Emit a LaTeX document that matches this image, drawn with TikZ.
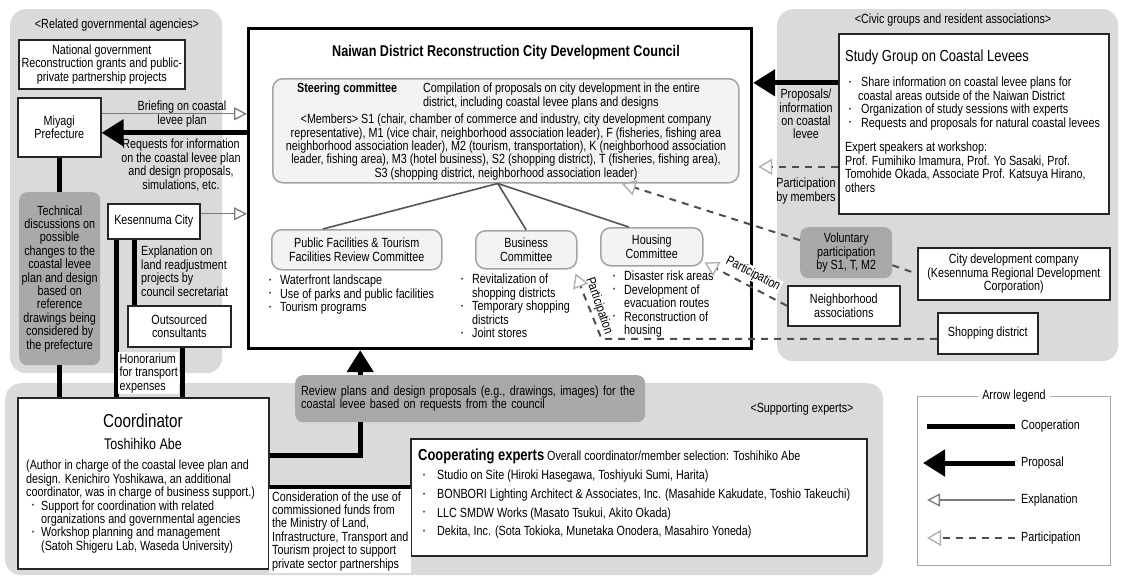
\documentclass[tikz,border=0pt]{standalone}
\usepackage{fontspec}
\setmainfont{Liberation Sans}[FakeStretch=0.81]
\usetikzlibrary{arrows.meta}

\definecolor{panelgray}{HTML}{DADADA}
\definecolor{notegray}{HTML}{A9A9A9}
\definecolor{subfill}{HTML}{F3F3F3}
\definecolor{subedge}{HTML}{A3A3A3}
\definecolor{explgray}{HTML}{7A7A7A}
\definecolor{partgray}{HTML}{4E4E4E}
\definecolor{parthead}{HTML}{B0B0B0}
\definecolor{treegray}{HTML}{555555}

\newcommand\txt{\fontsize{13.3}{13.4}\selectfont}
\newcommand\dotmark{\raisebox{2.4pt}{\fontsize{7}{7}\selectfont\textbullet}}
\newcommand\bul[1][11pt]{\makebox[#1][l]{\dotmark}}

\tikzset{
  every node/.style={inner sep=0pt, font=\txt},
  panel/.style={fill=panelgray, rounded corners=16pt, anchor=north west},
  wbox/.style={draw=black!85, line width=1.6pt, fill=white, align=center, anchor=north west},
  notebox/.style={fill=notegray, rounded corners=8pt, align=center, anchor=north west},
  subbox/.style={draw=subedge, line width=1.5pt, fill=subfill, rounded corners=10pt, align=center, anchor=north west},
  councilbox/.style={draw=black, line width=3.2pt, fill=white, anchor=north west},
  coopline/.style={line width=5pt, black},
  proposal/.style={line width=5pt, black, -{Triangle[length=22pt,width=26pt]}},
  explain/.style={line width=1.3pt, explgray, -{Triangle[open,length=13pt,width=13pt,line width=1.3pt]}},
  partic/.style={line width=2pt, partgray, dash pattern=on 7pt off 6pt,
    -{Triangle[open,length=14pt,width=16pt,line width=1.4pt,color=parthead]}},
  particline/.style={line width=2pt, partgray, dash pattern=on 7pt off 6pt},
  tree/.style={line width=1.6pt, treegray},
  lbl/.style={align=left, anchor=north west},
}

\begin{document}
\begin{tikzpicture}[x=1pt,y=-1pt]
\fill[white] (0,0) rectangle (1123,578);
\useasboundingbox (0,0) rectangle (1123,578);

% ---------- background groups ----------
\node[panel, minimum width=212pt, minimum height=364pt] (govpanel) at (10,9) {};
\node[panel, minimum width=341pt, minimum height=352pt] (civicpanel) at (777,9) {};
\node[panel, minimum width=878pt, minimum height=192pt] (supportpanel) at (5,383) {};

\node (govtitle) at (117,25) {<Related governmental agencies>};
\node (civictitle) at (953,20) {<Civic groups and resident associations>};
\node (suptitle) at (802,409) {<Supporting experts>};

% ---------- governmental agencies ----------
\node[wbox, minimum width=166pt, minimum height=49pt] (natgov) at (18,39)
  {National government\\Reconstruction grants and public-\\private partnership projects};
\node[wbox, minimum width=83pt, minimum height=59pt] (miyagi) at (17,97) {Miyagi\\Prefecture};
\node[notebox, minimum width=81pt, minimum height=173pt] (tech) at (19,192)
  {Technical\\discussions on\\possible\\changes to the\\coastal levee\\plan and design\\based on\\reference\\drawings being\\considered by\\the prefecture};
\node[wbox, minimum width=92pt, minimum height=35pt] (kesen) at (107,203) {Kesennuma City};
\node[wbox, minimum width=103pt, minimum height=41pt] (outsrc) at (127,305) {Outsourced\\consultants};

% ---------- council ----------
\node[councilbox, minimum width=503pt, minimum height=320pt] (council) at (247,27) {};
\node[font=\bfseries\fontsize{15.6}{17}\selectfont] (ctitle) at (506,52)
  {Naiwan District Reconstruction City Development Council};

\node[subbox, minimum width=466pt, minimum height=104pt] (steer) at (272,78) {};
\node[anchor=west, font=\bfseries\txt] (steerhead) at (297,89) {Steering committee};
\node[lbl] (steerrole) at (423,83)
  {Compilation of proposals on city development in the entire\\district, including coastal levee plans and designs};
\node[align=center] (steermem) at (506,147)
  {<Members> S1 (chair, chamber of commerce and industry, city development company\\
   representative), M1 (vice chair, neighborhood association leader), F (fisheries, fishing area\\
   neighborhood association leader), M2 (tourism, transportation), K (neighborhood association\\
   leader, fishing area), M3 (hotel business), S2 (shopping district), T (fisheries, fishing area),\\
   S3 (shopping district, neighborhood association leader)};

\node[subbox, minimum width=170pt, minimum height=40pt] (pf) at (271,229)
  {Public Facilities \& Tourism\\Facilities Review Committee};
\node[subbox, minimum width=101pt, minimum height=38pt] (bus) at (475,230) {Business\\Committee};
\node[subbox, minimum width=102pt, minimum height=38pt] (hous) at (600,227) {Housing\\Committee};

\node[lbl] (pflist) at (269,275)
  {\bul Waterfront landscape\\\bul Use of parks and public facilities\\\bul Tourism programs};
\node[lbl] (buslist) at (461,274)
  {\bul Revitalization of\\\hspace*{11pt}shopping districts\\\bul Temporary shopping\\\hspace*{11pt}districts\\\bul Joint stores};
\node[lbl] (houslist) at (613,271)
  {\bul Disaster risk areas\\\bul Development of\\\hspace*{11pt}evacuation routes\\\bul Reconstruction of\\\hspace*{11pt}housing};

\coordinate (hub) at ([xshift=-8pt]steer.south);
\draw[tree] (hub) -- ([xshift=-34pt]pf.north);
\draw[tree] (hub) -- (bus.north);
\draw[tree] (hub) -- ([xshift=-23pt]hous.north);

% ---------- civic groups ----------
\node[wbox, minimum width=270pt, minimum height=180pt] (study) at (838,33) {};
\node[anchor=west, font=\fontsize{16}{18}\selectfont] (studyhead) at (845,57) {Study Group on Coastal Levees};
\node[lbl] (studylist) at (849,77)
  {\bul[9pt] Share information on coastal levee plans for\\\hspace*{9pt}coastal areas outside of the Naiwan District\\
   \bul[9pt] Organization of study sessions with experts\\\bul[9pt] Requests and proposals for natural coastal levees};
\node[lbl] (speakers) at (845,142)
  {Expert speakers at workshop:\\Prof. Fumihiko Imamura, Prof. Yo Sasaki, Prof.\\Tomohide Okada, Associate Prof. Katsuya Hirano,\\others};

\node[align=center] (proplbl) at (806,114) {Proposals/\\information\\on coastal\\levee};
\node[align=center] (partlbl) at (806,191) {Participation\\by members};

\node[notebox, minimum width=92pt, minimum height=51pt] (volun) at (800,227) {Voluntary\\participation\\by S1, T, M2};
\node[wbox, minimum width=192pt, minimum height=52pt] (citydev) at (917,247)
  {City development company\\(Kesennuma Regional Development\\Corporation)};
\node[wbox, minimum width=112pt, minimum height=40pt] (neigh) at (787,285) {Neighborhood\\associations};
\node[wbox, minimum width=100pt, minimum height=41pt] (shop) at (937,312) {Shopping district};

% ---------- supporting experts ----------
\node[wbox, minimum width=251pt, minimum height=171pt] (coord) at (17,397) {};
\node[font=\fontsize{18.8}{21}\selectfont] (coordtitle) at (143,421) {Coordinator};
\node[font=\fontsize{15.4}{17}\selectfont] (coordname) at (143,444) {Toshihiko Abe};
\node[lbl] (coordnote) at (26,460)
  {(Author in charge of the coastal levee plan and\\design. Kenichiro Yoshikawa, an additional\\
   coordinator, was in charge of business support.)\\
   \hspace*{6pt}\bul[9pt]Support for coordination with related\\\hspace*{15pt}organizations and governmental agencies\\
   \hspace*{6pt}\bul[9pt]Workshop planning and management\\\hspace*{15pt}(Satoh Shigeru Lab, Waseda University)};

\node[notebox, minimum width=350pt, minimum height=47pt, align=left, text width=338pt] (review) at (295,375)
  {Review plans and design proposals (e.g., drawings, images) for the\\coastal levee based on requests from the council};

\node[wbox, minimum width=456pt, minimum height=117pt] (experts) at (410,438) {};
\node[anchor=west] (exphead) at (418,456)
  {{\bfseries\fontsize{16}{18}\selectfont Cooperating experts} Overall coordinator/member selection: Toshihiko Abe};
\node[lbl, font=\fontsize{13.3}{18.7}\selectfont] (explist) at (423,470)
  {\bul[14pt]Studio on Site (Hiroki Hasegawa, Toshiyuki Sumi, Harita)\\
   \bul[14pt]BONBORI Lighting Architect \& Associates, Inc. (Masahide Kakudate, Toshio Takeuchi)\\
   \bul[14pt]LLC SMDW Works (Masato Tsukui, Akito Okada)\\
   \bul[14pt]Dekita, Inc. (Sota Tokioka, Munetaka Onodera, Masahiro Yoneda)};

% ---------- connectors: cooperation ----------
\draw[coopline] (miyagi.south) -- (miyagi.south |- tech.north);
\draw[coopline] (tech.south) -- (tech.south |- coord.north);
\coordinate (kesA) at ([xshift=9pt]kesen.south west);
\coordinate (kesB) at ([xshift=27pt]kesen.south west);
\draw[coopline] (kesA) -- (kesA |- coord.north);
\draw[coopline] (kesB) -- (kesB |- outsrc.north);
\coordinate (outA) at ([xshift=55pt]outsrc.south west);
\draw[coopline] (outA) -- (outA |- coord.north);

\coordinate (revdown) at ([xshift=-110pt]review.south);
\coordinate (coordA) at ([yshift=27.5pt]coord.east);
\draw[coopline] (revdown) |- (coordA);
\coordinate (coordB) at ([yshift=-4.5pt]coord.east);
\draw[coopline] (coordB) -- (coordB -| experts.west);

% ---------- connectors: proposals ----------
\coordinate (req0) at ([yshift=-5.5pt]miyagi.east);
\draw[proposal] (req0 -| council.west) -- (req0);
\coordinate (revup) at ([xshift=-110pt]review.north);
\draw[proposal] (revup) -- (revup |- council.south);
\coordinate (studyP) at ([yshift=41pt]study.west);
\draw[proposal] (studyP) -- (studyP -| council.east);

% ---------- connectors: explanation ----------
\coordinate (brief0) at ([yshift=13.5pt]miyagi.east);
\draw[explain] (brief0) -- (brief0 -| council.west);
\coordinate (kes0) at ([yshift=7.5pt]kesen.east);
\draw[explain] (kes0) -- (kes0 -| council.west);

% ---------- connectors: participation ----------
\coordinate (studyQ) at ([yshift=-43pt]study.west);
\coordinate (councilE) at ([xshift=5pt]council.east);
\draw[partic] (studyQ) -- (studyQ -| councilE);
\draw[partic] ([yshift=12.5pt]volun.west) -- ([xshift=116pt]steer.south);
\draw[particline] ([yshift=-12.5pt]volun.east) -- (citydev.west);
\draw[partic] (neigh.west) -- ([xshift=1pt,yshift=4pt]hous.south east);
\coordinate (shopW) at ([yshift=-5.5pt]shop.west);
\coordinate (busBend) at ([xshift=24pt]bus.south east);
\draw[partic] (shopW) -- (shopW -| busBend) -- ([xshift=-2pt,yshift=-4pt]bus.south east);

% ---------- connector labels ----------
\node[align=center] (brieflbl) at (182,114) {Briefing on coastal\\levee plan};
\node[align=center] (reqlbl) at (181,165)
  {Requests for information\\on the coastal levee plan\\and design proposals,\\simulations, etc.};
\node[lbl] (expllbl) at (141,246) {Explanation on\\land readjustment\\projects by\\council secretariat};
\node[lbl, fill=white, inner sep=1.5pt] (honorlbl) at (118,352) {Honorarium\\for transport\\expenses};
\node[fill=white, align=left, inner xsep=3pt, minimum height=84pt, anchor=north west] (fundlbl) at (269,489)
  {Consideration of the use of\\commissioned funds from\\the Ministry of Land,\\Infrastructure, Transport and\\Tourism project to support\\private sector partnerships};
\node[rotate=-27.5, fill=white, inner sep=1pt] (plblH) at (753,274) {Participation};
\node[rotate=-71, inner sep=1pt] (plblB) at (599,306) {Participation};

% ---------- legend ----------
\node[draw=gray!70, line width=1pt, minimum width=193pt, minimum height=169pt, anchor=north west] (legend) at (917,396) {};
\node[fill=white, inner sep=4pt] (legtitle) at (legend.north) {Arrow legend};
\node[anchor=west] (lgcoop) at (1021,426) {Cooperation};
\node[anchor=west] (lgprop) at (1021,463) {Proposal};
\node[anchor=west] (lgexpl) at (1021,500) {Explanation};
\node[anchor=west] (lgpart) at (1021,538) {Participation};
\draw[coopline] ([xshift=-6pt]lgcoop.west) -- ++(-88,0);
\draw[proposal] ([xshift=-6pt]lgprop.west) -- ++(-92,0);
\draw[explain] ([xshift=-6pt]lgexpl.west) -- ++(-88,0);
\draw[partic] ([xshift=-6pt]lgpart.west) -- ++(-88,0);
\end{tikzpicture}
\end{document}
